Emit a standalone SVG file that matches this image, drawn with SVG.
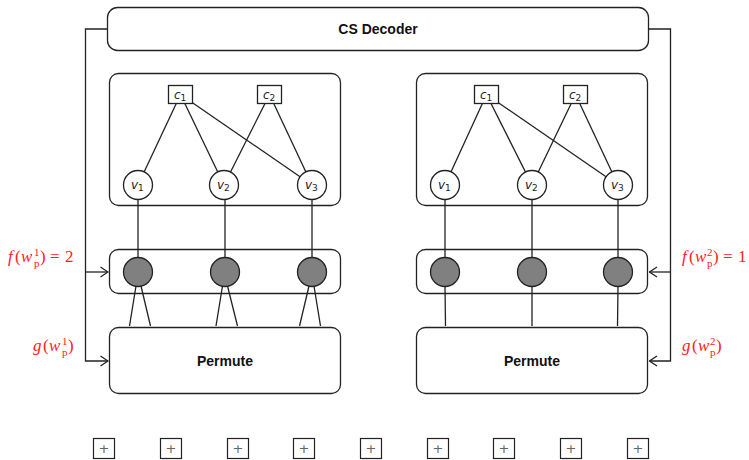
<svg xmlns="http://www.w3.org/2000/svg" width="749" height="460" viewBox="0 0 749 460">
<style>
.box{fill:#fff;stroke:#222;stroke-width:1.3}
.cn{fill:#fff;stroke:#222;stroke-width:1.3}
.vn{fill:#fff;stroke:#222;stroke-width:1.3}
.gn{fill:#808080;stroke:#222;stroke-width:1.3}
.ln{fill:none;stroke:#222;stroke-width:1.3}
.title{font-family:"Liberation Sans",Arial,sans-serif;font-weight:bold;font-size:14px;fill:#111;text-anchor:middle}
.lab{font-family:"DejaVu Sans","Liberation Sans",sans-serif;font-style:italic;font-size:12px;fill:#222}
.sub{font-style:normal;font-size:9px}
.math{font-family:"Liberation Serif","Times New Roman",serif;font-size:17px;fill:#ff2020}
.it{font-style:italic}
.ss{font-size:11px}
.plus{fill:#fff;stroke:#222;stroke-width:1.2}
.pt{font-family:"DejaVu Sans",sans-serif;font-size:13px;fill:#666;text-anchor:middle}
</style>
<defs>
<marker id="arr" markerUnits="userSpaceOnUse" viewBox="0 0 10 12" markerWidth="10" markerHeight="12" refX="9" refY="6" orient="auto">
<path d="M1.5,1 L9,6 L1.5,11" fill="none" stroke="#222" stroke-width="1.3"/>
</marker>
</defs>

<g id="containers">
<rect id="leftGraph" class="box" x="109.5" y="73.5" width="231" height="132" rx="9"/>
<rect id="rightGraph" class="box" x="416.5" y="73.5" width="231" height="132" rx="9"/>
<rect id="leftRow" class="box" x="109.5" y="249.5" width="231" height="44" rx="9"/>
<rect id="rightRow" class="box" x="416.5" y="249.5" width="231" height="44" rx="9"/>
</g>

<g id="connectors">
<line class="ln" x1="180.5" y1="94.5" x2="138" y2="185"/>
<line class="ln" x1="180.5" y1="94.5" x2="224" y2="185"/>
<line class="ln" x1="180.5" y1="94.5" x2="312" y2="185"/>
<line class="ln" x1="269.5" y1="94.5" x2="224" y2="185"/>
<line class="ln" x1="269.5" y1="94.5" x2="312" y2="185"/>
<line class="ln" x1="486.5" y1="94.5" x2="445" y2="185"/>
<line class="ln" x1="486.5" y1="94.5" x2="532" y2="185"/>
<line class="ln" x1="486.5" y1="94.5" x2="618" y2="185"/>
<line class="ln" x1="575.5" y1="94.5" x2="532" y2="185"/>
<line class="ln" x1="575.5" y1="94.5" x2="618" y2="185"/>
<line class="ln" x1="138" y1="199" x2="138" y2="258"/>
<line class="ln" x1="225" y1="199" x2="225" y2="258"/>
<line class="ln" x1="312" y1="199" x2="312" y2="258"/>
<line class="ln" x1="445" y1="199" x2="445" y2="258"/>
<line class="ln" x1="532" y1="199" x2="532" y2="258"/>
<line class="ln" x1="618" y1="199" x2="618" y2="258"/>
<line class="ln" x1="136" y1="286" x2="129.5" y2="326"/>
<line class="ln" x1="141" y1="286" x2="150.5" y2="326"/>
<line class="ln" x1="222.5" y1="286" x2="216" y2="326"/>
<line class="ln" x1="227.5" y1="286" x2="237.5" y2="326"/>
<line class="ln" x1="309" y1="286" x2="299.5" y2="326"/>
<line class="ln" x1="314" y1="286" x2="320.5" y2="326"/>
<line class="ln" x1="445" y1="286" x2="445.5" y2="326"/>
<line class="ln" x1="532" y1="286" x2="532" y2="326"/>
<line class="ln" x1="618" y1="286" x2="617.5" y2="326"/>
<path class="ln" d="M107,29 H85.5 V361 H108" marker-end="url(#arr)"/>
<path class="ln" d="M85.5,272 H108" marker-end="url(#arr)"/>
<path class="ln" d="M649,29 H670.5 V361 H649.5" marker-end="url(#arr)"/>
<path class="ln" d="M670.5,272 H649.5" marker-end="url(#arr)"/>
</g>

<g id="decoder">
<rect class="box" x="107.5" y="7.5" width="541" height="43" rx="10"/>
<text class="title" x="378" y="34">CS Decoder</text>
</g>

<g id="L_c1"><rect class="cn" x="168.5" y="85.5" width="24" height="18"/><text class="lab" x="174" y="99">c<tspan class="sub" dy="2">1</tspan></text></g>
<g id="L_c2"><rect class="cn" x="257.5" y="85.5" width="24" height="18"/><text class="lab" x="263" y="99">c<tspan class="sub" dy="2">2</tspan></text></g>
<g id="L_v1"><circle class="vn" cx="138" cy="185" r="14.5"/><text class="lab" x="131" y="189">v<tspan class="sub" dy="2">1</tspan></text></g>
<g id="L_v2"><circle class="vn" cx="224" cy="185" r="14.5"/><text class="lab" x="217" y="189">v<tspan class="sub" dy="2">2</tspan></text></g>
<g id="L_v3"><circle class="vn" cx="312" cy="185" r="14.5"/><text class="lab" x="305" y="189">v<tspan class="sub" dy="2">3</tspan></text></g>

<g id="R_c1"><rect class="cn" x="474.5" y="85.5" width="24" height="18"/><text class="lab" x="480" y="99">c<tspan class="sub" dy="2">1</tspan></text></g>
<g id="R_c2"><rect class="cn" x="563.5" y="85.5" width="24" height="18"/><text class="lab" x="569" y="99">c<tspan class="sub" dy="2">2</tspan></text></g>
<g id="R_v1"><circle class="vn" cx="445" cy="185" r="14.5"/><text class="lab" x="438" y="189">v<tspan class="sub" dy="2">1</tspan></text></g>
<g id="R_v2"><circle class="vn" cx="532" cy="185" r="14.5"/><text class="lab" x="525" y="189">v<tspan class="sub" dy="2">2</tspan></text></g>
<g id="R_v3"><circle class="vn" cx="618" cy="185" r="14.5"/><text class="lab" x="611" y="189">v<tspan class="sub" dy="2">3</tspan></text></g>

<g id="L_g1"><circle class="gn" cx="138" cy="272" r="14.5"/></g>
<g id="L_g2"><circle class="gn" cx="225" cy="272" r="14.5"/></g>
<g id="L_g3"><circle class="gn" cx="312" cy="272" r="14.5"/></g>
<g id="R_g1"><circle class="gn" cx="445" cy="272" r="14.5"/></g>
<g id="R_g2"><circle class="gn" cx="532" cy="272" r="14.5"/></g>
<g id="R_g3"><circle class="gn" cx="618" cy="272" r="14.5"/></g>

<g id="L_permute">
<rect class="box" x="109.5" y="327.5" width="231" height="66" rx="9"/>
<text class="title" x="225" y="366">Permute</text>
</g>
<g id="R_permute">
<rect class="box" x="416.5" y="327.5" width="231" height="66" rx="9"/>
<text class="title" x="532" y="366">Permute</text>
</g>

<g id="labels">
<text class="math"><tspan class="it" x="8" y="262">f</tspan><tspan x="15" y="262">(</tspan><tspan class="it" x="21" y="262">w</tspan><tspan class="ss" x="34" y="256">1</tspan><tspan class="ss" x="34" y="267">p</tspan><tspan x="40" y="262">)</tspan><tspan x="50" y="262">=</tspan><tspan x="65" y="262">2</tspan></text>
<text class="math"><tspan class="it" x="33" y="351">g</tspan><tspan x="43" y="351">(</tspan><tspan class="it" x="49" y="351">w</tspan><tspan class="ss" x="62" y="345">1</tspan><tspan class="ss" x="62" y="356">p</tspan><tspan x="68" y="351">)</tspan></text>
<text class="math"><tspan class="it" x="682" y="262">f</tspan><tspan x="689" y="262">(</tspan><tspan class="it" x="695" y="262">w</tspan><tspan class="ss" x="707" y="256">2</tspan><tspan class="ss" x="707" y="267">p</tspan><tspan x="713" y="262">)</tspan><tspan x="723" y="262">=</tspan><tspan x="738" y="262">1</tspan></text>
<text class="math"><tspan class="it" x="682" y="351">g</tspan><tspan x="692" y="351">(</tspan><tspan class="it" x="698" y="351">w</tspan><tspan class="ss" x="710" y="345">2</tspan><tspan class="ss" x="710" y="356">p</tspan><tspan x="716" y="351">)</tspan></text>
</g>

<g id="plus1"><rect class="plus" x="93.5" y="438.5" width="21" height="20"/><text class="pt" x="104" y="453">+</text></g>
<g id="plus2"><rect class="plus" x="160.5" y="438.5" width="21" height="20"/><text class="pt" x="171" y="453">+</text></g>
<g id="plus3"><rect class="plus" x="227.5" y="438.5" width="21" height="20"/><text class="pt" x="238" y="453">+</text></g>
<g id="plus4"><rect class="plus" x="293.5" y="438.5" width="21" height="20"/><text class="pt" x="304" y="453">+</text></g>
<g id="plus5"><rect class="plus" x="360.5" y="438.5" width="21" height="20"/><text class="pt" x="371" y="453">+</text></g>
<g id="plus6"><rect class="plus" x="427.5" y="438.5" width="21" height="20"/><text class="pt" x="438" y="453">+</text></g>
<g id="plus7"><rect class="plus" x="493.5" y="438.5" width="21" height="20"/><text class="pt" x="504" y="453">+</text></g>
<g id="plus8"><rect class="plus" x="560.5" y="438.5" width="21" height="20"/><text class="pt" x="571" y="453">+</text></g>
<g id="plus9"><rect class="plus" x="627.5" y="438.5" width="21" height="20"/><text class="pt" x="638" y="453">+</text></g>
</svg>
